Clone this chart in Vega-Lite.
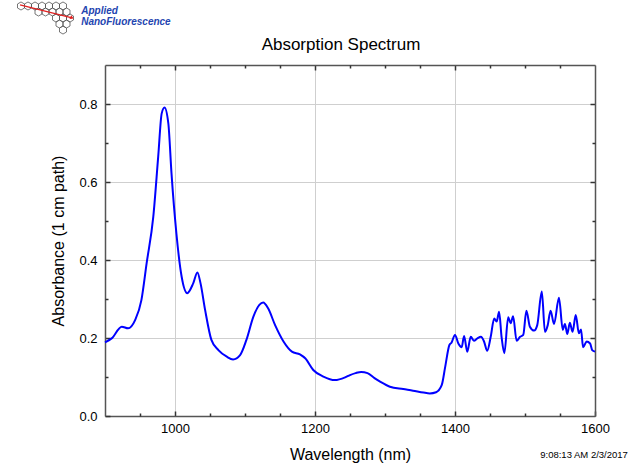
{
  "$schema": "https://vega.github.io/schema/vega-lite/v6.json",
  "width": 490,
  "height": 351,
  "autosize": {"type": "none"},
  "padding": {"left": 105, "top": 65, "right": 41, "bottom": 58},
  "title": {"text": "Absorption Spectrum", "fontSize": 17, "fontWeight": "normal", "font": "Liberation Sans", "color": "#000", "offset": -54, "dx": -9},
  "config": {
    "view": {"stroke": null},
    "font": "Liberation Sans",
    "axis": {"domainColor": "#555", "domainWidth": 1.5, "tickColor": "#333", "tickWidth": 1.5, "gridColor": "#cfcfcf", "gridWidth": 1, "labelFontSize": 13, "labelColor": "#000", "titleFontSize": 16, "titleFontWeight": "normal", "titleColor": "#000", "labelFlush": false, "labelOverlap": false}
  },
  "datasets": {
    "spectrum": [
      {"wavelength": 900, "absorbance": 0.189},
      {"wavelength": 909.5, "absorbance": 0.199},
      {"wavelength": 924, "absorbance": 0.229},
      {"wavelength": 933, "absorbance": 0.225},
      {"wavelength": 943, "absorbance": 0.246},
      {"wavelength": 952, "absorbance": 0.297},
      {"wavelength": 959.5, "absorbance": 0.392},
      {"wavelength": 969, "absorbance": 0.511},
      {"wavelength": 976, "absorbance": 0.665},
      {"wavelength": 981, "absorbance": 0.776},
      {"wavelength": 985, "absorbance": 0.791},
      {"wavelength": 990.5, "absorbance": 0.75},
      {"wavelength": 995, "absorbance": 0.622},
      {"wavelength": 1002, "absorbance": 0.468},
      {"wavelength": 1009.5, "absorbance": 0.357},
      {"wavelength": 1017.5, "absorbance": 0.315},
      {"wavelength": 1026, "absorbance": 0.34},
      {"wavelength": 1032, "absorbance": 0.368},
      {"wavelength": 1036.5, "absorbance": 0.34},
      {"wavelength": 1043, "absorbance": 0.272},
      {"wavelength": 1052, "absorbance": 0.195},
      {"wavelength": 1062, "absorbance": 0.169},
      {"wavelength": 1074, "absorbance": 0.152},
      {"wavelength": 1083, "absorbance": 0.145},
      {"wavelength": 1093, "absorbance": 0.156},
      {"wavelength": 1102, "absorbance": 0.195},
      {"wavelength": 1112, "absorbance": 0.255},
      {"wavelength": 1120.5, "absorbance": 0.285},
      {"wavelength": 1126, "absorbance": 0.291},
      {"wavelength": 1133, "absorbance": 0.276},
      {"wavelength": 1143, "absorbance": 0.233},
      {"wavelength": 1155, "absorbance": 0.191},
      {"wavelength": 1167, "absorbance": 0.165},
      {"wavelength": 1178.5, "absorbance": 0.158},
      {"wavelength": 1186, "absorbance": 0.148},
      {"wavelength": 1197.5, "absorbance": 0.118},
      {"wavelength": 1212, "absorbance": 0.101},
      {"wavelength": 1228.5, "absorbance": 0.092},
      {"wavelength": 1243, "absorbance": 0.099},
      {"wavelength": 1250, "absorbance": 0.105},
      {"wavelength": 1258, "absorbance": 0.11},
      {"wavelength": 1266, "absorbance": 0.113},
      {"wavelength": 1275, "absorbance": 0.11},
      {"wavelength": 1285, "absorbance": 0.097},
      {"wavelength": 1293, "absorbance": 0.088},
      {"wavelength": 1307, "absorbance": 0.075},
      {"wavelength": 1326, "absorbance": 0.069},
      {"wavelength": 1340, "absorbance": 0.065},
      {"wavelength": 1355, "absorbance": 0.06},
      {"wavelength": 1364, "absorbance": 0.058},
      {"wavelength": 1373, "absorbance": 0.061},
      {"wavelength": 1381, "absorbance": 0.079},
      {"wavelength": 1386, "absorbance": 0.126},
      {"wavelength": 1392, "absorbance": 0.182},
      {"wavelength": 1395, "absorbance": 0.188},
      {"wavelength": 1400, "absorbance": 0.208},
      {"wavelength": 1405, "absorbance": 0.185},
      {"wavelength": 1409.5, "absorbance": 0.176},
      {"wavelength": 1413, "absorbance": 0.205},
      {"wavelength": 1417.5, "absorbance": 0.165},
      {"wavelength": 1422.5, "absorbance": 0.203},
      {"wavelength": 1427, "absorbance": 0.193},
      {"wavelength": 1432, "absorbance": 0.199},
      {"wavelength": 1437, "absorbance": 0.203},
      {"wavelength": 1441.5, "absorbance": 0.191},
      {"wavelength": 1446, "absorbance": 0.167},
      {"wavelength": 1451, "absorbance": 0.203},
      {"wavelength": 1456, "absorbance": 0.25},
      {"wavelength": 1459.5, "absorbance": 0.242},
      {"wavelength": 1463, "absorbance": 0.267},
      {"wavelength": 1466.5, "absorbance": 0.203},
      {"wavelength": 1470.5, "absorbance": 0.161},
      {"wavelength": 1476, "absorbance": 0.253},
      {"wavelength": 1479.5, "absorbance": 0.238},
      {"wavelength": 1483, "absorbance": 0.256},
      {"wavelength": 1488, "absorbance": 0.193},
      {"wavelength": 1493, "absorbance": 0.203},
      {"wavelength": 1497.5, "absorbance": 0.208},
      {"wavelength": 1502, "absorbance": 0.27},
      {"wavelength": 1507, "absorbance": 0.229},
      {"wavelength": 1513, "absorbance": 0.219},
      {"wavelength": 1517.5, "absorbance": 0.233},
      {"wavelength": 1524, "absorbance": 0.319},
      {"wavelength": 1528.5, "absorbance": 0.216},
      {"wavelength": 1532.5, "absorbance": 0.233},
      {"wavelength": 1536.5, "absorbance": 0.27},
      {"wavelength": 1541.5, "absorbance": 0.236},
      {"wavelength": 1548.5, "absorbance": 0.303},
      {"wavelength": 1554, "absorbance": 0.221},
      {"wavelength": 1557, "absorbance": 0.236},
      {"wavelength": 1560.5, "absorbance": 0.21},
      {"wavelength": 1564, "absorbance": 0.239},
      {"wavelength": 1568, "absorbance": 0.216},
      {"wavelength": 1572.5, "absorbance": 0.259},
      {"wavelength": 1577, "absorbance": 0.212},
      {"wavelength": 1580, "absorbance": 0.222},
      {"wavelength": 1583, "absorbance": 0.176},
      {"wavelength": 1588, "absorbance": 0.191},
      {"wavelength": 1593, "absorbance": 0.186},
      {"wavelength": 1596, "absorbance": 0.169},
      {"wavelength": 1600, "absorbance": 0.165}
    ],
    "logoCells": [
      {"cx": 780, "cy": 1.0513}, {"cx": 790, "cy": 1.0513}, {"cx": 800, "cy": 1.0513}, {"cx": 810, "cy": 1.0513},
      {"cx": 820, "cy": 1.0513}, {"cx": 830, "cy": 1.0513}, {"cx": 840, "cy": 1.0513},
      {"cx": 805, "cy": 1.0359}, {"cx": 815, "cy": 1.0359}, {"cx": 825, "cy": 1.0359}, {"cx": 835, "cy": 1.0359}, {"cx": 845, "cy": 1.0359},
      {"cx": 830, "cy": 1.0205}, {"cx": 840, "cy": 1.0205}, {"cx": 850, "cy": 1.0205},
      {"cx": 835, "cy": 1.0051}, {"cx": 845, "cy": 1.0051},
      {"cx": 840, "cy": 0.9897}
    ],
    "logoArrow": [
      {"x1": 778.6, "y1": 1.054, "x2": 852.9, "y2": 1.021}
    ]
  },
  "layer": [
    {
      "data": {"name": "spectrum"},
      "mark": {"type": "line", "color": "#0000ff", "strokeWidth": 2, "interpolate": "monotone"},
      "encoding": {
        "x": {"field": "wavelength", "type": "quantitative", "scale": {"domain": [900, 1600], "nice": false, "zero": false},
          "axis": {"orient": "bottom", "values": [1000, 1200, 1400, 1600], "format": "d", "grid": true, "tickSize": -5, "labelPadding": 11, "title": "Wavelength (nm)", "titlePadding": 11}},
        "y": {"field": "absorbance", "type": "quantitative", "scale": {"domain": [0, 0.9], "nice": false},
          "axis": {"orient": "left", "values": [0, 0.2, 0.4, 0.6, 0.8], "format": ".1f", "grid": true, "tickSize": -5, "labelPadding": 13, "title": "Absorbance (1 cm path)", "titlePadding": 12}}
      }
    },
    {
      "data": {"name": "spectrum"},
      "mark": {"type": "line", "opacity": 0},
      "encoding": {
        "x": {"field": "wavelength", "type": "quantitative", "scale": {"domain": [900, 1600], "nice": false, "zero": false},
          "axis": {"orient": "bottom", "values": [950, 1050, 1100, 1150, 1250, 1300, 1350, 1450, 1500, 1550], "grid": false, "domain": false, "labels": false, "tickSize": -3, "title": null}},
        "y": {"field": "absorbance", "type": "quantitative", "scale": {"domain": [0, 0.9], "nice": false},
          "axis": {"orient": "left", "values": [0.1, 0.3, 0.5, 0.7], "grid": false, "domain": false, "labels": false, "tickSize": -3, "title": null}}
      }
    },
    {
      "data": {"name": "spectrum"},
      "mark": {"type": "line", "opacity": 0},
      "encoding": {
        "x": {"field": "wavelength", "type": "quantitative", "scale": {"domain": [900, 1600], "nice": false, "zero": false},
          "axis": {"orient": "top", "values": [1000, 1200, 1400], "grid": false, "labels": false, "tickSize": -5, "title": null}},
        "y": {"field": "absorbance", "type": "quantitative", "scale": {"domain": [0, 0.9], "nice": false},
          "axis": {"orient": "right", "values": [0.2, 0.4, 0.6, 0.8], "grid": false, "labels": false, "tickSize": -5, "title": null}}
      }
    },
    {
      "data": {"name": "spectrum"},
      "mark": {"type": "line", "opacity": 0},
      "encoding": {
        "x": {"field": "wavelength", "type": "quantitative", "scale": {"domain": [900, 1600], "nice": false, "zero": false},
          "axis": {"orient": "top", "values": [950, 1050, 1100, 1150, 1250, 1300, 1350, 1450, 1500, 1550], "grid": false, "domain": false, "labels": false, "tickSize": -3, "title": null}},
        "y": {"field": "absorbance", "type": "quantitative", "scale": {"domain": [0, 0.9], "nice": false},
          "axis": {"orient": "right", "values": [0.1, 0.3, 0.5, 0.7], "grid": false, "domain": false, "labels": false, "tickSize": -3, "title": null}}
      }
    },
    {
      "data": {"name": "logoCells"},
      "mark": {"type": "point", "shape": "M0,-1L0.866,-0.5L0.866,0.5L0,1L-0.866,0.5L-0.866,-0.5Z", "size": 65, "filled": false, "stroke": "#555", "strokeWidth": 0.8, "opacity": 1},
      "encoding": {
        "x": {"field": "cx", "type": "quantitative", "axis": null},
        "y": {"field": "cy", "type": "quantitative", "axis": null}
      }
    },
    {
      "data": {"name": "logoArrow"},
      "mark": {"type": "rule", "color": "#e02020", "strokeWidth": 1.3},
      "encoding": {
        "x": {"field": "x1", "type": "quantitative", "axis": null},
        "y": {"field": "y1", "type": "quantitative", "axis": null},
        "x2": {"field": "x2"},
        "y2": {"field": "y2"}
      }
    },
    {
      "data": {"name": "logoArrow"},
      "mark": {"type": "point", "shape": "triangle-right", "size": 18, "filled": true, "color": "#e02020", "angle": 24, "opacity": 1},
      "encoding": {
        "x": {"field": "x2", "type": "quantitative", "axis": null},
        "y": {"field": "y2", "type": "quantitative", "axis": null}
      }
    },
    {
      "data": {"values": [{}]},
      "mark": {"type": "text", "align": "right", "baseline": "middle", "fontSize": 9.5, "color": "#000", "text": "9:08:13 AM  2/3/2017"},
      "encoding": {
        "x": {"datum": 1647, "type": "quantitative", "axis": null},
        "y": {"datum": -0.1, "type": "quantitative", "axis": null}
      }
    },
    {
      "data": {"values": [{}]},
      "mark": {"type": "text", "align": "left", "baseline": "middle", "fontSize": 10, "fontWeight": "bold", "fontStyle": "italic", "color": "#2445b0", "text": "Applied"},
      "encoding": {
        "x": {"datum": 866, "type": "quantitative", "axis": null},
        "y": {"datum": 1.038, "type": "quantitative", "axis": null}
      }
    },
    {
      "data": {"values": [{}]},
      "mark": {"type": "text", "align": "left", "baseline": "middle", "fontSize": 10, "fontWeight": "bold", "fontStyle": "italic", "color": "#2445b0", "text": "NanoFluorescence"},
      "encoding": {
        "x": {"datum": 866, "type": "quantitative", "axis": null},
        "y": {"datum": 1.01, "type": "quantitative", "axis": null}
      }
    }
  ],
  "resolve": {"axis": {"x": "independent", "y": "independent"}}
}
